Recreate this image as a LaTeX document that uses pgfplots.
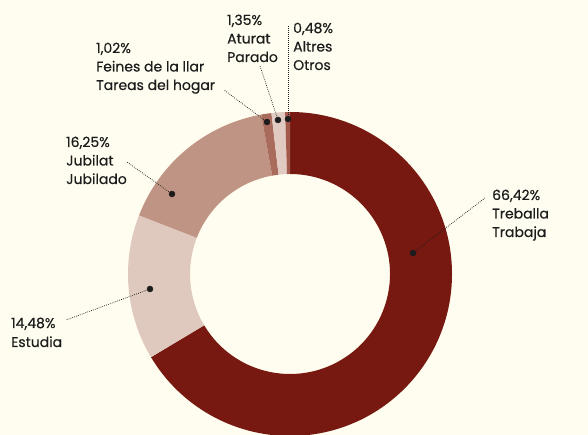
\documentclass[border=0pt]{standalone}
\usepackage{pgfplots}
\pgfplotsset{compat=1.18}
\usepackage{fontspec}
\setmainfont[FakeBold=0.35]{Poppins}
\definecolor{bg}{HTML}{FFFDEF}
\definecolor{cTrab}{HTML}{771911}
\definecolor{cEst}{HTML}{DFC9BF}
\definecolor{cJub}{HTML}{C09484}
\definecolor{cFei}{HTML}{A96B5B}
\definecolor{cAtu}{HTML}{E0CAC1}
\definecolor{cAlt}{HTML}{A5594B}
\definecolor{txt}{HTML}{1C1C1C}
% annular sector from cumulative percentage #1 to #2
\newcommand\sector[3]{%
  \fill[#3] (axis cs:290,161) ++({90-3.6*#1}:162pt)
    arc[start angle={90-3.6*#1}, end angle={90-3.6*#2}, radius=162pt]
    -- ++({90-3.6*#2}:-62pt)
    arc[start angle={90-3.6*#2}, end angle={90-3.6*#1}, radius=100pt] -- cycle;}
\newcommand\lab[3]{\node[anchor=base west, inner sep=0pt, text=txt, font=\fontsize{14}{18}\selectfont] at (axis cs:#1,#2) {#3};}
\begin{document}
\begin{tikzpicture}
\begin{axis}[at={(0,0)}, anchor=south west, width=588pt, height=435pt, scale only axis,
  xmin=0, xmax=588, ymin=0, ymax=435, hide axis, clip=false]
\fill[bg] (axis cs:0,0) rectangle (axis cs:588,435);
% cumulative: 66.42, 14.48, 16.25, 1.02, 1.35, 0.48
\sector{0}{66.42}{cTrab}
\sector{66.42}{80.90}{cEst}
\sector{80.90}{97.15}{cJub}
\sector{97.15}{98.17}{cFei}
\sector{98.17}{99.52}{cAtu}
\sector{99.52}{100}{cAlt}
% leader lines
\addplot[txt, line width=0.75pt, dash pattern=on 0.75pt off 1.25pt] coordinates {(413,182) (485,237)};
\addplot[txt, line width=0.75pt, dash pattern=on 0.75pt off 1.25pt] coordinates {(150,146) (66,115)};
\addplot[txt, line width=0.75pt, dash pattern=on 0.75pt off 1.25pt] coordinates {(172,241) (127,273)};
\addplot[txt, line width=0.75pt, dash pattern=on 0.75pt off 1.25pt] coordinates {(267,313) (224,345)};
\addplot[txt, line width=0.75pt, dash pattern=on 0.75pt off 1.25pt] coordinates {(278,315) (260,369)};
\addplot[txt, line width=0.75pt, dash pattern=on 0.75pt off 1.25pt] coordinates {(288,316) (288,410)};
\addplot[only marks, mark=*, mark size=3pt, txt] coordinates {(413,182) (150,146) (172,241) (267,313) (278,315) (288,316)};
% labels
\lab{492}{235}{66,42\%}\lab{492}{216.5}{Treballa}\lab{492}{198}{Trabaja}
\lab{11}{107}{14,48\%}\lab{11}{88}{Estudia}
\lab{66}{288}{16,25\%}\lab{66}{269.5}{Jubilat}\lab{66}{251}{Jubilado}
\lab{96}{382}{1,02\%}\lab{96}{363.5}{Feines de la llar}\lab{96}{345}{Tareas del hogar}
\lab{227}{410}{1,35\%}\lab{227}{391.5}{Aturat}\lab{227}{373}{Parado}
\lab{293}{402}{0,48\%}\lab{293}{383.5}{Altres}\lab{293}{365}{Otros}
\coordinate (SW) at (axis cs:0,0);
\coordinate (NE) at (axis cs:588,435);
\end{axis}
\pgfresetboundingbox
\path[use as bounding box] (SW) rectangle (NE);
\end{tikzpicture}
\end{document}
